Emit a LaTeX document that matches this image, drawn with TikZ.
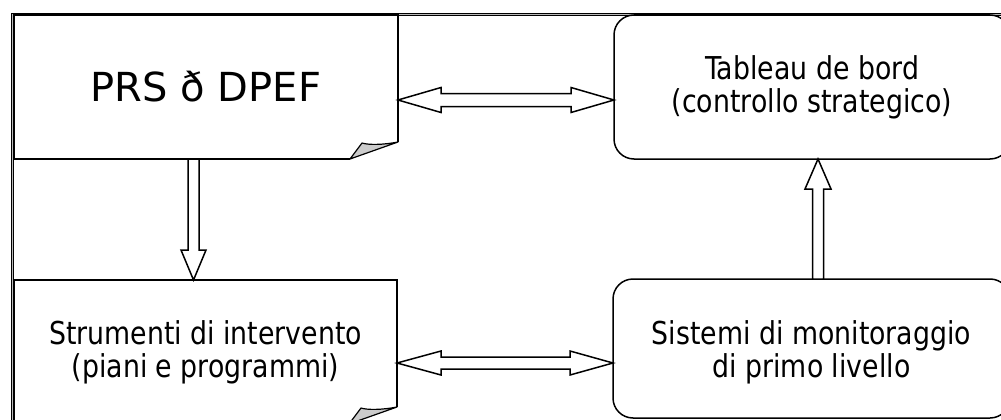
\documentclass[tikz,border=0pt]{standalone}
\usepackage{fontspec}
\setmainfont{DejaVu Sans}
\newfontfamily\bodyfont[FakeStretch=0.85]{DejaVu Sans}
\newfontfamily\prsfont{DejaVu Sans}
\usetikzlibrary{calc}
\begin{document}
\begin{tikzpicture}[x=1pt,y=-1pt,
  boxline/.style={line width=1.5pt, line join=miter},
  textfont/.style={font=\bodyfont\fontsize{31.5}{33}\selectfont},
  notebox/.style={draw=none, inner sep=0pt, outer sep=0pt, align=center, textfont},
  roundbox/.style={draw, line width=1.5pt, rounded corners=20pt, inner sep=0pt, outer sep=0pt, align=center, textfont},
  fold/.style={draw, line width=1.2pt, fill=gray!40, line join=round},
  blockarrow/.style={draw, line width=1.5pt, fill=white, line join=miter},
  frame/.style={draw, double=gray!55, double distance=1pt, line width=0.9pt}]
\useasboundingbox (0,0) rectangle (1001,420);
\clip (0,0) rectangle (1001,420);
\fill[white] (0,0) rectangle (1001,420);
\draw[frame] (12.7,440) -- (12.7,14.3) -- (1020,14.3);

% boxes
\node[notebox, minimum width=384pt, minimum height=144pt] (prs) at (206,87)
  {\prsfont\fontsize{40}{44}\selectfont PRS ð DPEF};
\node[roundbox, minimum width=396pt, minimum height=144pt] (tab) at (812,87)
  {Tableau de bord\\(controllo strategico)};
\node[notebox, minimum width=383pt, minimum height=144pt] (str) at (205.5,352)
  {Strumenti di intervento\\(piani e programmi)};
\node[roundbox, minimum width=397pt, minimum height=139pt] (sis) at (811.5,348.5)
  {\rule{0pt}{31pt}Sistemi di monitoraggio\\di primo livello};

% note outlines with folded corners
\draw[boxline] ($(prs.south east)+(-48,0)$) -- (prs.south west) -- (prs.north west)
  -- (prs.north east) -- ($(prs.south east)+(0,-17)$);
\draw[fold] ($(prs.south east)+(-48,0)$) -- ($(prs.south east)+(-36,-16)$)
  .. controls ($(prs.south east)+(-30,-14)$) and ($(prs.south east)+(-15,-14)$)
  .. ($(prs.south east)+(0,-17)$) -- cycle;
\draw[boxline] ($(str.south east)+(-48,0)$) -- (str.south west) -- (str.north west)
  -- (str.north east) -- ($(str.south east)+(0,-17)$);
\draw[fold] ($(str.south east)+(-48,0)$) -- ($(str.south east)+(-36,-16)$)
  .. controls ($(str.south east)+(-30,-14)$) and ($(str.south east)+(-15,-14)$)
  .. ($(str.south east)+(0,-17)$) -- cycle;

% top double arrow
\coordinate (a1) at ($(prs.north east)+(0,85)$);
\coordinate (b1) at (a1 -| tab.west);
\draw[blockarrow] (a1) -- ++(43,-12.5) -- ++(0,6) -- ($(b1)+(-43,-6.5)$) -- ++(0,-6)
  -- (b1) -- ++(-43,12.5) -- ++(0,-6) -- ($(a1)+(43,6.5)$) -- ++(0,6) -- cycle;

% bottom double arrow
\coordinate (a2) at ($(str.north east)+(0,83)$);
\coordinate (b2) at (a2 -| sis.west);
\draw[blockarrow] (a2) -- ++(44,-12) -- ++(0,6) -- ($(b2)+(-43,-6)$) -- ++(0,-6)
  -- (b2) -- ++(-43,12) -- ++(0,-6) -- ($(a2)+(44,6)$) -- ++(0,6) -- cycle;

% down arrow
\coordinate (d0) at ($(prs.south west)+(179.5,0)$);
\coordinate (d1) at (d0 |- str.north);
\draw[blockarrow] ($(d0)+(-5.5,0)$) -- ($(d1)+(-5.5,-30)$) -- ++(-7,0) -- (d1)
  -- ++(12.5,-30) -- ++(-7,0) -- ($(d0)+(5.5,0)$) -- cycle;

% up arrow
\coordinate (u0) at ($(sis.north west)+(205,0)$);
\coordinate (u1) at (u0 |- tab.south);
\draw[blockarrow] ($(u0)+(-5.5,0)$) -- ($(u1)+(-5.5,30)$) -- ++(-7.5,0) -- (u1)
  -- ++(13,30) -- ++(-7.5,0) -- ($(u0)+(5.5,0)$) -- cycle;
\end{tikzpicture}
\end{document}
